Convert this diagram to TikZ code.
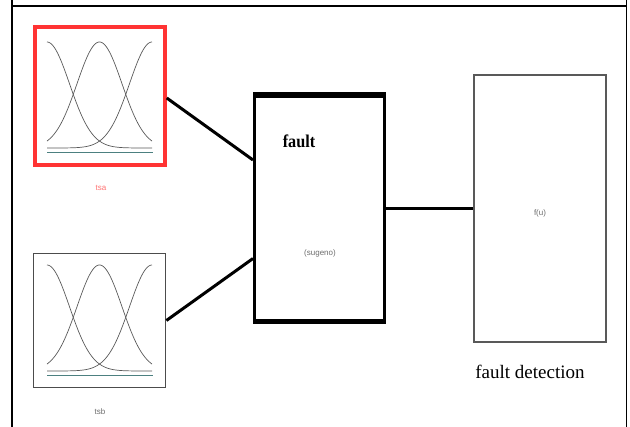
\documentclass[tikz,border=0pt]{standalone}
\usepackage{fontspec}
\setmainfont{Liberation Serif}
\setsansfont{Liberation Sans}
\begin{document}
\begin{tikzpicture}[x=1pt,y=-1pt,
  box/.style={draw, rectangle, inner sep=0pt},
  link/.style={line width=3pt},
  mfcurve/.style={gray!70!black, line width=0.7pt},
  mfbase/.style={gray!60!teal, line width=0.8pt},
  tinytext/.style={font=\fontsize{8}{9}\selectfont\sffamily, text=gray!85!black},
  bigtext/.style={font=\fontsize{19}{22}\selectfont, inner sep=0pt}]
\useasboundingbox (0,0) rectangle (630,427);
% frame
\draw[line width=1.2pt] (12,0) -- (12,427);
\draw[line width=1.4pt] (626.5,0) -- (626.5,427);
\draw[line width=1.6pt] (12,6) -- (626.5,6);
% input boxes
\node[box, draw=red!80!white, line width=3.5pt, minimum width=130pt, minimum height=138pt] (tsa) at (100,96) {};
\node[box, draw=gray!60!black, line width=1.8pt, minimum width=132pt, minimum height=134pt] (tsb) at (99.5,320.5) {};
\node[tinytext, text=red!55!white] (tsalabel) at (101,188) {tsa};
\node[tinytext] (tsblabel) at (100,412) {tsb};
% membership curves
\foreach \dy in {0,223}{
  \begin{scope}[yshift=-\dy pt]
    \draw[mfbase] (47,152) -- (153,152);
    \foreach \c in {47,99.5,152}{
      \draw[mfcurve] plot[domain=47:152, samples=70, smooth] (\x, {148 - 106*exp(-((\x-\c)^2)/1012)});
    }
  \end{scope}
}
% rule block
\node[box, line width=3pt, minimum width=130pt, minimum height=224pt] (fault) at (319.5,208.5) {};
\draw[line width=5pt] (fault.north west) -- (fault.north east);
\draw[line width=5pt] (fault.south west) -- (fault.south east);
\node[bigtext, font=\fontsize{18}{22}\selectfont\bfseries, xscale=0.9] (faulttitle) at (299,141) {fault};
\node[tinytext] (sugeno) at (320,253) {(sugeno)};
% output block
\node[box, draw=gray!70!black, line width=1.8pt, minimum width=132pt, minimum height=267pt] (detect) at (540,208.5) {};
\node[tinytext] (fu) at (540,213) {f(u)};
\node[bigtext] (detectlabel) at (530,372) {fault detection};
% connectors
\draw[link] ([yshift=-2pt]tsa.east) -- ([yshift=48.5pt]fault.west);
\draw[link] (tsb.east) -- ([yshift=-50pt]fault.west);
\draw[link] (fault.east) -- (detect.west);
\end{tikzpicture}
\end{document}
